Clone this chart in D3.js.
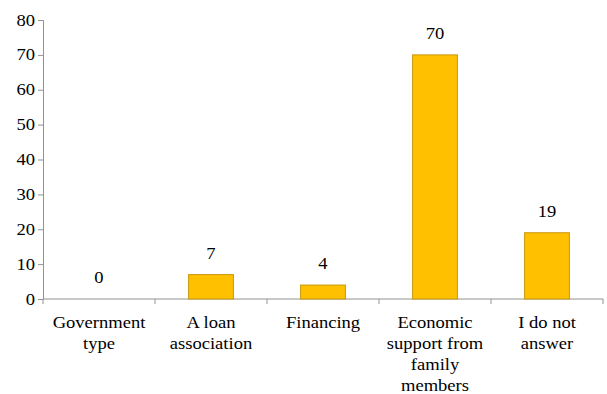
<!DOCTYPE html>
<html>
<head>
<meta charset="utf-8">
<script src="https://cdn.jsdelivr.net/npm/d3@7"></script>
</head>
<body style="margin:0">
<script>
// Categories (with their line breaks) and values
const categories = ["Government type", "A loan association", "Financing", "Economic support from family members", "I do not answer"];
const categoryLines = [
  ["Government", "type"],
  ["A loan", "association"],
  ["Financing"],
  ["Economic", "support from", "family", "members"],
  ["I do not", "answer"]
];
const values = [0, 7, 4, 70, 19];
const yTicks = [0, 10, 20, 30, 40, 50, 60, 70, 80];

const W = 607, H = 394;
const plot = { left: 43, right: 603, top: 20, bottom: 299 };
const SERIF = '"Liberation Serif", "Tinos", "Times New Roman", "FreeSerif"';
const SX = 1.16;   // horizontal stretch of the text

const svg = d3.select("body").append("svg").attr("width", W).attr("height", H)
  .style("display", "block")
  .style("font-family", SERIF);

const x = d3.scaleBand().domain(categories).range([plot.left, plot.right])
  .paddingInner(0.6).paddingOuter(0.3);
const y = d3.scaleLinear().domain([0, 80]).range([plot.bottom, plot.top]);

const axisColor = "#929292";

// Y axis line and ticks
const yAxis = svg.append("g").attr("transform", `translate(${plot.left},0)`)
  .call(d3.axisLeft(y).tickValues(yTicks).tickSize(5).tickFormat(""));
yAxis.attr("font-family", null);
yAxis.select(".domain").attr("stroke", axisColor);
yAxis.selectAll(".tick line").attr("stroke", axisColor);

// X axis baseline and category separators
const step = x.step();
svg.append("line").attr("x1", plot.left).attr("x2", plot.right).attr("y1", plot.bottom).attr("y2", plot.bottom)
  .attr("stroke", axisColor).attr("stroke-width", 1);
const seps = d3.range(categories.length + 1).map(i => plot.left + i * step);
svg.selectAll("line.sep").data(seps).enter().append("line").attr("class", "sep")
  .attr("x1", d => d).attr("x2", d => d).attr("y1", plot.bottom).attr("y2", plot.bottom + 5)
  .attr("stroke", axisColor);

// Bars
svg.selectAll("rect.bar").data(values).enter().append("rect").attr("class", "bar")
  .attr("x", (d, i) => x(categories[i]))
  .attr("width", x.bandwidth())
  .attr("y", d => y(d))
  .attr("height", d => y(0) - y(d))
  .attr("fill", "#FFC000")
  .attr("stroke", d => d > 0 ? "#C9970C" : "none")
  .attr("stroke-width", 1);

// All text items: y tick labels, value labels and category label lines
const texts = [];
yTicks.forEach(t => texts.push({ px: plot.left - 8, py: y(t) + 5.5, anchor: "end", s: d3.format("d")(t) }));
values.forEach((v, i) => texts.push({ px: x(categories[i]) + x.bandwidth() / 2, py: y(v) - 16, anchor: "middle", s: String(v) }));
categoryLines.forEach((lines, i) => {
  const cx = x(categories[i]) + x.bandwidth() / 2;
  lines.forEach((ln, j) => texts.push({ px: cx, py: 328 + j * 21, anchor: "middle", s: ln }));
});

svg.selectAll("text.lbl").data(texts).enter().append("text").attr("class", "lbl")
  .attr("transform", d => `translate(${d.px},${d.py}) scale(${SX},1)`)
  .attr("text-anchor", d => d.anchor)
  .attr("font-size", 16)
  .attr("font-family", SERIF)
  .style("font-family", SERIF)
  .attr("fill", "#000")
  .text(d => d.s);
</script>
</body>
</html>
